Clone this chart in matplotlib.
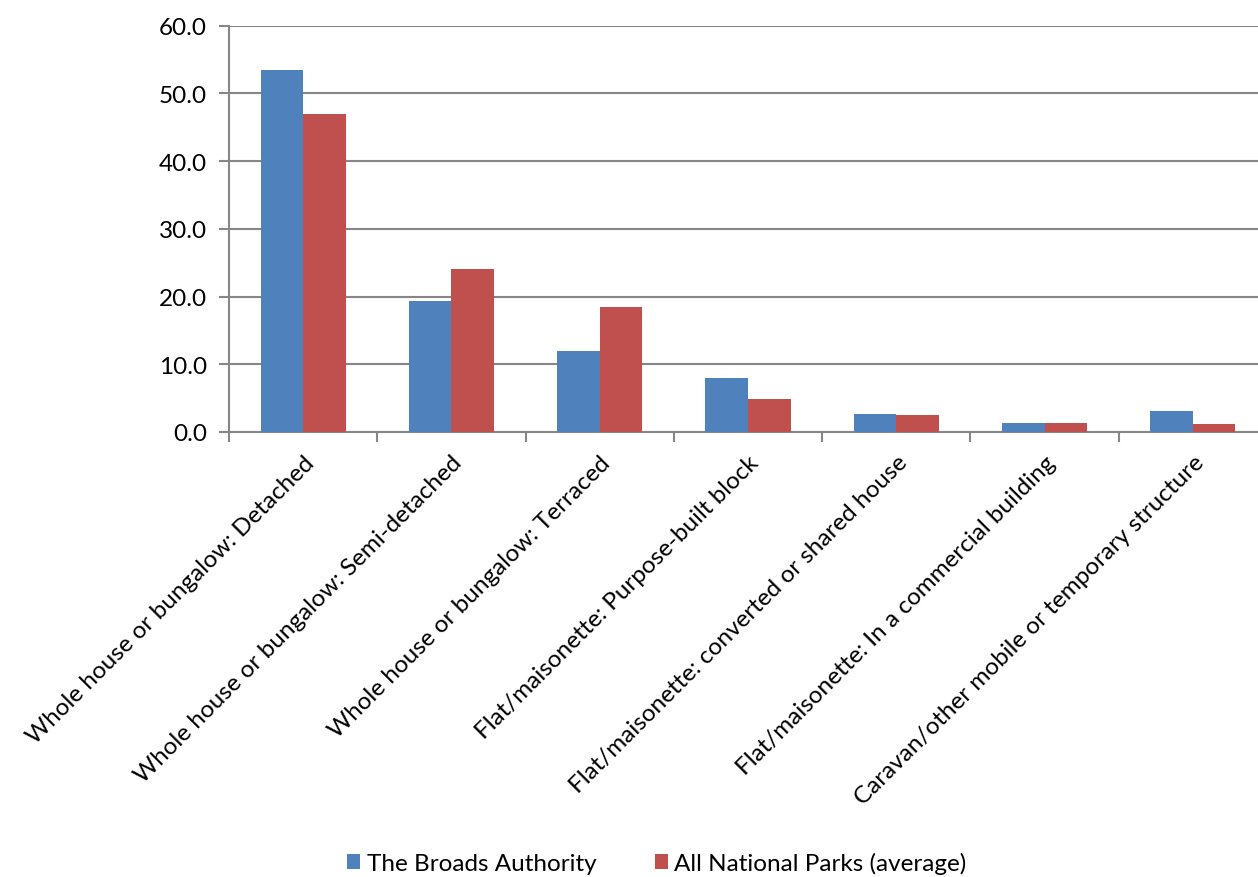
import numpy as np
import matplotlib
matplotlib.use("Agg")
import matplotlib.pyplot as plt

categories = [
    "Whole house or bungalow: Detached",
    "Whole house or bungalow: Semi-detached",
    "Whole house or bungalow: Terraced",
    "Flat/maisonette: Purpose-built block",
    "Flat/maisonette: converted or shared house",
    "Flat/maisonette: In a commercial building",
    "Caravan/other mobile or temporary structure",
]
broads = [53.5, 19.3, 11.9, 8.0, 2.6, 1.3, 3.1]
national_parks = [47.0, 24.1, 18.5, 4.9, 2.5, 1.3, 1.2]
series_names = ["The Broads Authority", "All National Parks (average)"]
yticks = [0, 10, 20, 30, 40, 50, 60]

plt.rcParams['font.family'] = ['Lato', 'DejaVu Sans']

fig = plt.figure(figsize=(12.58, 8.78), dpi=100)
ax = fig.add_axes([229 / 1258, 1 - 433 / 878, 1038 / 1258, (433 - 26.7) / 878])

x = np.arange(len(categories))
w = 0.287
ax.bar(x - w / 2, broads, w, color='#4F81BD', label=series_names[0], zorder=3)
ax.bar(x + w / 2, national_parks, w, color='#C0504D', label=series_names[1], zorder=3)

ax.set_xlim(-0.5, len(categories) - 0.5)
ax.set_ylim(0, 60)
ax.set_yticks(yticks)
ax.set_yticklabels([f"{v:.1f}" for v in yticks], fontsize=17.5)
ax.yaxis.grid(True, color='#868686', linewidth=1.5, zorder=0)

ax.set_xticks(np.arange(len(categories) + 1) - 0.5)
ax.set_xticklabels([])
ax.set_xticks(x, minor=True)
ax.set_xticklabels(categories, minor=True, rotation=45, ha='right', va='top',
                   rotation_mode='anchor', fontsize=17.5)
ax.tick_params(axis='x', which='minor', length=0, pad=14)
ax.tick_params(axis='x', which='major', length=7, width=1.5, color='#868686')
ax.tick_params(axis='y', length=7, width=1.5, color='#868686', pad=9)

for s in ['top', 'right']:
    ax.spines[s].set_visible(False)
for s in ['left', 'bottom']:
    ax.spines[s].set_color('#868686')
    ax.spines[s].set_linewidth(1.5)

fig.legend(loc='center', bbox_to_anchor=(0.522, 1 - 864 / 878), ncol=2, frameon=False,
           fontsize=17.5, handlelength=0.55, handleheight=0.55, handletextpad=0.25,
           columnspacing=2.4)

fig.savefig("out.png", dpi=100)
